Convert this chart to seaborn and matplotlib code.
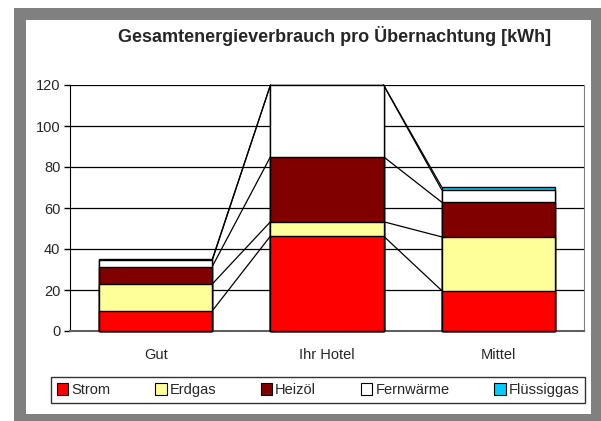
import numpy as np
import pandas as pd
import matplotlib.pyplot as plt
import seaborn as sns
from matplotlib.patches import Rectangle

# Daten (kWh pro Übernachtung)
kategorien = ["Gut", "Ihr Hotel", "Mittel"]
energietraeger = ["Strom", "Erdgas", "Heizöl", "Fernwärme", "Flüssiggas"]
strom = [9.8, 46.3, 19.7]
erdgas = [13.1, 7.0, 26.2]
heizoel = [8.5, 31.7, 16.9]
fernwaerme = [3.0, 35.0, 6.0]
fluessiggas = [0.5, 0.0, 1.4]
farben = ["#ff0000", "#ffff99", "#800000", "#ffffff", "#00ccff"]

werte = pd.DataFrame(
    {"Strom": strom, "Erdgas": erdgas, "Heizöl": heizoel,
     "Fernwärme": fernwaerme, "Flüssiggas": fluessiggas},
    index=kategorien,
)
kumuliert = werte.cumsum(axis=1)

sns.set_style("white")
plt.rcParams["font.family"] = ["Liberation Sans", "DejaVu Sans"]

fig = plt.figure(figsize=(6.01, 4.21), dpi=100)

# grauer Rahmen
fig.patches.append(Rectangle((14 / 601, 0), 587 / 601, 413 / 421,
                             transform=fig.transFigure, facecolor="#808080",
                             edgecolor="none", zorder=-2))
fig.patches.append(Rectangle((26 / 601, 7 / 421), 565 / 601, 394 / 421,
                             transform=fig.transFigure, facecolor="white",
                             edgecolor="none", zorder=-1))

ax = fig.add_axes([70 / 601, 90 / 421, 514 / 601, 246 / 421])
ax.set_facecolor("none")

breite = 0.66
# gestapelte Balken: von oben nach unten überzeichnen
for i in range(len(energietraeger) - 1, -1, -1):
    sns.barplot(x=kategorien, y=kumuliert.iloc[:, i].values, color=farben[i],
                saturation=1, edgecolor="black", linewidth=1.0, width=breite,
                ax=ax, zorder=3, clip_on=False)

# Serienlinien zwischen den Balken
for i in range(len(energietraeger)):
    hoehen = kumuliert.iloc[:, i].values
    for k in range(len(kategorien) - 1):
        ax.plot([k + breite / 2, k + 1 - breite / 2], [hoehen[k], hoehen[k + 1]],
                color="black", linewidth=0.9, zorder=2, clip_on=False)

ax.set_xlim(-0.5, 2.5)
ax.set_ylim(0, 120)
ax.set_yticks(np.arange(0, 121, 20))
ax.yaxis.grid(True, color="black", linewidth=0.9)
ax.set_axisbelow(True)
ax.tick_params(axis="y", length=4, width=1, color="black", labelsize=10.5, pad=3, left=True)
ax.tick_params(axis="x", length=0, labelsize=10.5, pad=12)
ax.spines["top"].set_visible(False)
ax.spines["left"].set_color("black")
ax.spines["right"].set_color("#808080")
ax.spines["bottom"].set_color("#606060")
ax.spines["bottom"].set_linewidth(1.5)
ax.set_xlabel("")
ax.set_ylabel("")

fig.text(335 / 601, 1 - 36 / 421, "Gesamtenergieverbrauch pro Übernachtung [kWh]",
         ha="center", va="center", fontsize=13, fontweight="bold")

handles = [Rectangle((0, 0), 1, 1, facecolor=f, edgecolor="black", linewidth=0.8)
           for f in farben]
leg = fig.legend(handles, energietraeger, ncol=5, loc="center",
                 bbox_to_anchor=(318 / 601, 1 - 390 / 421), fontsize=10.5,
                 frameon=True, fancybox=False, handlelength=0.8, handleheight=0.8,
                 handletextpad=0.2, columnspacing=3.05, borderpad=0.4)
leg.get_frame().set_edgecolor("black")
leg.get_frame().set_linewidth(1.0)

fig.savefig("out.png", dpi=100)
